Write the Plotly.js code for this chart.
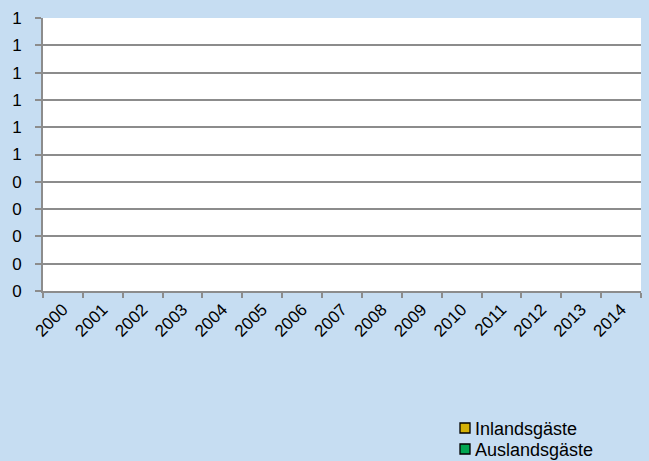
<!DOCTYPE html>
<html>
<head>
<meta charset="utf-8">
<script src="https://cdn.plot.ly/plotly-3.0.1.min.js"></script>
<style>html,body{margin:0;padding:0;background:#c6ddf2;}</style>
</head>
<body>
<div id="chart" style="width:649px;height:461px;"></div>
<script>
const years = ["2000","2001","2002","2003","2004","2005","2006","2007","2008","2009","2010","2011","2012","2013","2014"];
const inland = [0,0,0,0,0,0,0,0,0,0,0,0,0,0,0];
const ausland = [0,0,0,0,0,0,0,0,0,0,0,0,0,0,0];
const seriesNames = ["Inlandsgäste","Auslandsgäste"];
const seriesColors = ["#d4b106","#00a651"];
const yTickVals = [0,0.1,0.2,0.3,0.4,0.5,0.6,0.7,0.8,0.9,1];
const yTickText = ["0","0","0","0","0","1","1","1","1","1","1"];

const W = 649, H = 461;
const M = {l:43, r:8, t:18, b:170};
const pw = W - M.l - M.r, ph = H - M.t - M.b;
const px2x = p => (p - M.l) / pw;
const py2y = p => (H - M.b - p) / ph;

const traces = [
  {type:"bar", x:years, y:inland, name:seriesNames[0],
   marker:{color:seriesColors[0], line:{color:"#000", width:1}}},
  {type:"bar", x:years, y:ausland, name:seriesNames[1],
   marker:{color:seriesColors[1], line:{color:"#000", width:1}}}
];

// legend drawn as shapes + text annotations
const shapes = [], annotations = [];
const legendRows = [428, 449];
seriesNames.forEach((nm, i) => {
  const cy = legendRows[i];
  shapes.push({type:"rect", xref:"paper", yref:"paper",
    x0:px2x(460), x1:px2x(470), y0:py2y(cy+5), y1:py2y(cy-5),
    fillcolor:seriesColors[i], line:{color:"#000", width:1.3}});
  annotations.push({xref:"paper", yref:"paper", x:px2x(472.5), y:py2y(cy+1),
    xanchor:"left", yanchor:"middle", showarrow:false, text:nm,
    font:{family:"Liberation Sans, Arial, sans-serif", size:18, color:"#000"}});
});

const layout = {
  width:W, height:H,
  paper_bgcolor:"#c6ddf2", plot_bgcolor:"#ffffff",
  margin:M,
  barmode:"stack",
  font:{family:"Liberation Sans, Arial, sans-serif", size:16, color:"#000"},
  showlegend:false,
  shapes:shapes, annotations:annotations,
  xaxis:{type:"category", tickangle:-45, ticks:"outside", ticklen:5, tickcolor:"#8c8c8c", tickwidth:2,
         tickson:"boundaries", showline:true, linecolor:"#8c8c8c", linewidth:2, showgrid:false,
         automargin:false, tickfont:{size:17}},
  yaxis:{range:[0,1], tickvals:yTickVals, ticktext:yTickText, ticks:"outside", ticklen:6,
         tickcolor:"#8c8c8c", tickwidth:2, showline:true, linecolor:"#8c8c8c", linewidth:2,
         showgrid:true, gridcolor:"#8c8c8c", gridwidth:2, zeroline:false, automargin:false,
         ticklabelstandoff:10, tickfont:{size:17}}
};
Plotly.newPlot("chart", traces, layout, {displayModeBar:false, staticPlot:true});
</script>
</body>
</html>
